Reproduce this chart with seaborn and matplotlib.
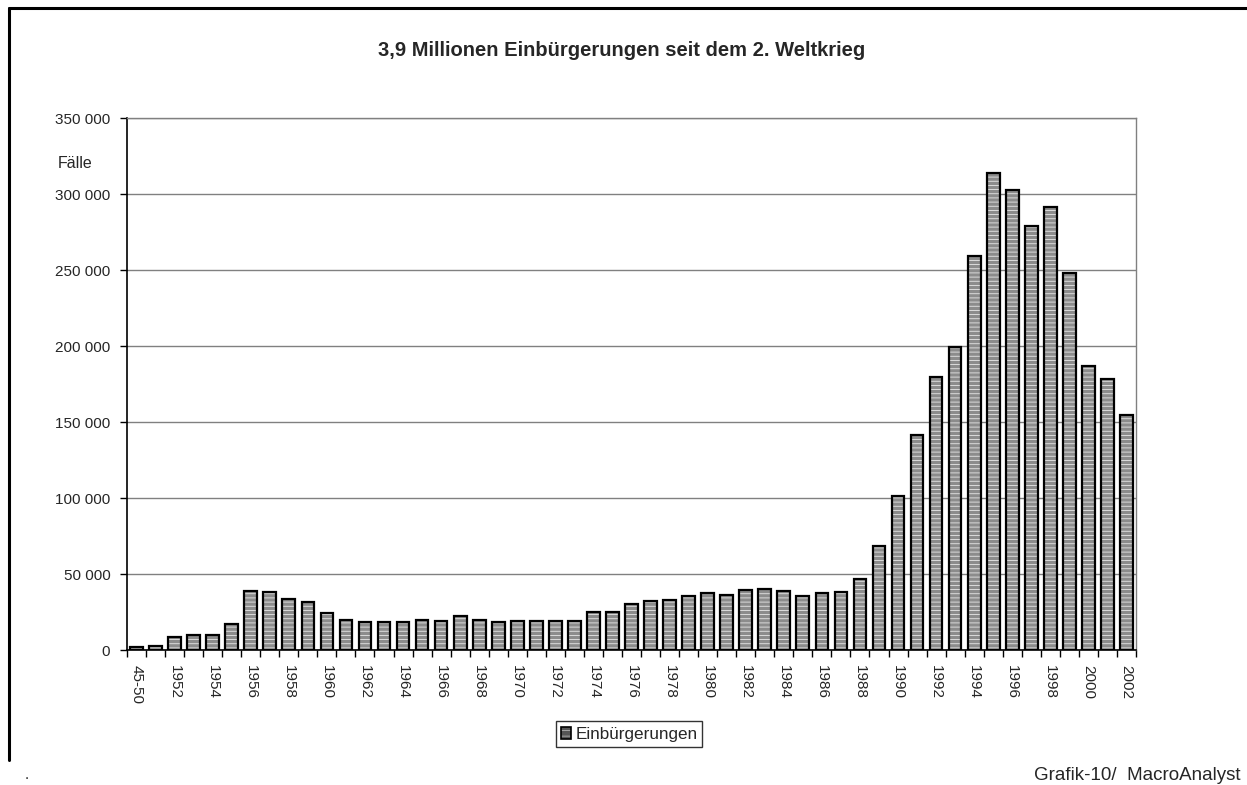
import matplotlib
matplotlib.use("Agg")
import matplotlib.pyplot as plt
import seaborn as sns
import pandas as pd
from matplotlib.ticker import FuncFormatter, MultipleLocator, FixedLocator
from matplotlib.patches import Patch
from matplotlib.lines import Line2D
from matplotlib.legend_handler import HandlerTuple

# Naturalisations per year (first period aggregated 1945-1950)
periods = ["45-50"] + [str(y) for y in range(1951, 2003)]
naturalisations = [
    2200, 2700, 8600, 9900, 9900, 16800, 38500, 38000, 33400, 31400,
    24500, 19900, 18600, 18100, 18300, 19500, 18800, 22100, 19500, 18300,
    18800, 19300, 18800, 19300, 25000, 25200, 30100, 32100, 33200, 35400,
    37400, 36300, 39800, 40000, 38500, 35400, 37200, 38300, 46800, 68500,
    101400, 141600, 179900, 199400, 259200, 313600, 302800, 278700, 291300, 248200,
    186700, 178100, 154500,
]
series_name = "Einbürgerungen"
title = "3,9 Millionen Einbürgerungen seit dem 2. Weltkrieg"
unit_label = "Fälle"
footer = "Grafik-10/  MacroAnalyst"

df = pd.DataFrame({"period": periods, "value": naturalisations})

sns.set_theme(style="white")
plt.rcParams["font.family"] = ["Liberation Sans", "DejaVu Sans"]
plt.rcParams["hatch.linewidth"] = 0.55

W, H = 1247, 785
fig = plt.figure(figsize=(W / 100, H / 100), dpi=100)
fig.patch.set_facecolor("white")
ax = fig.add_axes([127 / W, 1 - 650 / H, (1136 - 127) / W, (650 - 118) / H])

BAR_GRAY = "#8c8c8c"
BAR_W = 0.667

# striped fill
sns.barplot(data=df, x="period", y="value", order=periods, ax=ax,
            color=BAR_GRAY, saturation=1, width=BAR_W, edgecolor="#f0f0f0",
            linewidth=0, hatch="----", errorbar=None, zorder=2)
# dark outline on top
sns.barplot(data=df, x="period", y="value", order=periods, ax=ax,
            fill=False, color="black", width=BAR_W, linewidth=1.6,
            errorbar=None, zorder=3)

ax.set_xlim(-0.5, len(periods) - 0.5)
ax.set_ylim(0, 350000)
ax.yaxis.set_major_locator(MultipleLocator(50000))
ax.yaxis.set_major_formatter(FuncFormatter(lambda v, p: f"{int(v):,}".replace(",", " ")))
ax.grid(axis="y", color="#808080", linewidth=1.0, zorder=0)
ax.set_axisbelow(True)

label_pos = list(range(0, len(periods), 2))
ax.xaxis.set_major_locator(FixedLocator(label_pos))
ax.set_xticklabels([periods[i] for i in label_pos], rotation=-90, fontsize=11)
ax.xaxis.set_minor_locator(FixedLocator([i - 0.5 for i in range(len(periods) + 1)]))
ax.tick_params(axis="x", which="major", length=0, pad=11)
ax.tick_params(axis="x", which="minor", length=5, width=1, color="black", bottom=True)
ax.tick_params(axis="y", which="major", length=5, width=1, color="black", left=True,
               labelsize=11, pad=7)
ax.set_xlabel("")
ax.set_ylabel("")

for side in ("left", "bottom"):
    ax.spines[side].set_color("black")
    ax.spines[side].set_linewidth(1.2)
for side in ("top", "right"):
    ax.spines[side].set_color("#808080")
    ax.spines[side].set_linewidth(1.0)

fig.text(622 / W, 1 - 50 / H, title, ha="center", va="center",
         fontsize=14.5, fontweight="bold")
fig.text(75 / W, 1 - 163 / H, unit_label, ha="center", va="center", fontsize=11.5)

handle = (Patch(facecolor="#555555", edgecolor="#bbbbbb", hatch="---", linewidth=0),
          Patch(fill=False, edgecolor="black", linewidth=1.2))
leg = fig.legend([handle], [series_name], handler_map={tuple: HandlerTuple(ndivide=1)},
                 loc="center", bbox_to_anchor=(629 / W, 1 - 734 / H),
                 fontsize=12.3, frameon=True, fancybox=False, borderpad=0.3,
                 handlelength=0.6, handleheight=0.7, handletextpad=0.25,
                 borderaxespad=0)
leg.get_frame().set_edgecolor("black")
leg.get_frame().set_linewidth(1.0)

fig.text(1240 / W, 1 - 775 / H, footer, ha="right", va="center", fontsize=13.5)
fig.text(27 / W, 1 - 775 / H, ".", ha="center", va="center", fontsize=11)

# outer chart frame (top and left edges)
fig.add_artist(Line2D([9 / W, 1.0], [1 - 8 / H, 1 - 8 / H], color="black",
                      linewidth=2.2, transform=fig.transFigure))
fig.add_artist(Line2D([9 / W, 9 / W], [1 - 8 / H, 1 - 760 / H], color="black",
                      linewidth=2.2, transform=fig.transFigure))

fig.savefig("out.png", dpi=100, facecolor="white")
